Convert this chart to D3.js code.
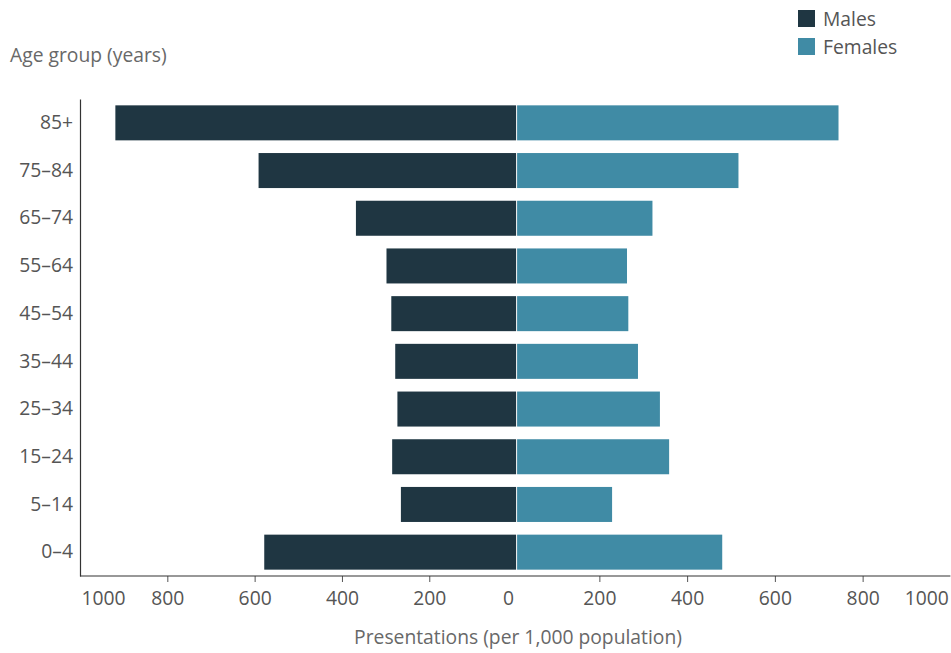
<!DOCTYPE html>
<html>
<head>
<meta charset="utf-8">
<script src="https://cdn.jsdelivr.net/npm/d3@7"></script>
<style>
  html, body { margin: 0; padding: 0; background: #fff; }
  svg { display: block; font-family: "Open Sans", "Noto Sans", sans-serif; }
</style>
</head>
<body>
<svg id="chart" width="951" height="653"></svg>
<script>
const ageGroups = ["85+", "75–84", "65–74", "55–64", "45–54", "35–44", "25–34", "15–24", "5–14", "0–4"];
const males   = [919, 591, 368, 298, 287, 278, 273, 285, 265, 578];
const females = [745, 517, 321, 263, 266, 288, 338, 359, 229, 480];
const tickValues = [0, 200, 400, 600, 800, 1000];
const seriesNames = ["Males", "Females"];
const colors = { Males: "#1f3642", Females: "#408ba5" };

(function () {
const svg = d3.select("#chart");
const plotTop = 99, plotBottom = 576, plotLeft = 80, mid = 516.6, plotRight = 950.4;
const fs = 19.3;

const y = d3.scaleBand().domain(ageGroups).range([plotTop, plotBottom]).paddingInner(0.266).paddingOuter(0.133);
const xL = d3.scaleLinear().domain([0, 1000]).range([mid, plotLeft]);
const xR = d3.scaleLinear().domain([0, 1000]).range([511.6, plotRight]);

const textColor = "#555";
const titleColor = "#686868";
const fmt = d3.format("d");

// bars - males
svg.append("g").selectAll("rect").data(ageGroups).join("rect")
  .attr("x", (d, i) => xL(males[i]))
  .attr("y", d => y(d))
  .attr("width", (d, i) => xL(0) - xL(males[i]) - 0.5)
  .attr("height", y.bandwidth())
  .attr("fill", colors.Males);

// bars - females
svg.append("g").selectAll("rect").data(ageGroups).join("rect")
  .attr("x", mid + 0.5)
  .attr("y", d => y(d))
  .attr("width", (d, i) => xR(females[i]) - (mid + 0.5))
  .attr("height", y.bandwidth())
  .attr("fill", colors.Females);

// y axis
const yAxis = svg.append("g").attr("transform", `translate(${plotLeft},0)`)
  .call(d3.axisLeft(y).tickSize(0).tickPadding(7));
yAxis.select(".domain").attr("stroke", "#333").attr("stroke-width", 1.2);
yAxis.selectAll("text").attr("font-size", fs).attr("fill", textColor)
  .attr("font-family", "'Open Sans', sans-serif");

// bottom axes
const axL = svg.append("g").attr("transform", `translate(0,${plotBottom})`)
  .call(d3.axisBottom(xL).tickValues(tickValues).tickFormat(fmt).tickSize(6).tickSizeOuter(0).tickPadding(9));
const axR = svg.append("g").attr("transform", `translate(0,${plotBottom})`)
  .call(d3.axisBottom(xR).tickValues(tickValues).tickFormat(fmt).tickSize(6).tickSizeOuter(0).tickPadding(9));
[axL, axR].forEach(ax => {
  ax.select(".domain").remove();
  ax.selectAll("line").attr("stroke", "#555");
  ax.selectAll("text").attr("font-size", fs).attr("fill", textColor)
    .attr("font-family", "'Open Sans', sans-serif");
  ax.selectAll(".tick").filter(d => d === 0 || d === 1000).select("line").remove();
});
axL.selectAll(".tick").filter(d => d === 1000).select("text").attr("text-anchor", "start").attr("dx", 1);
axL.selectAll(".tick").filter(d => d === 0).select("text").attr("text-anchor", "end").attr("dx", -3);
axR.selectAll(".tick").filter(d => d === 0).remove();
axR.selectAll(".tick").filter(d => d === 1000).select("text").attr("text-anchor", "end").attr("dx", -2);

svg.append("line").attr("x1", plotLeft).attr("x2", plotRight).attr("y1", plotBottom).attr("y2", plotBottom)
  .attr("stroke", "#333").attr("stroke-width", 1.2);

// titles
svg.append("text").attr("x", 10).attr("y", 62).attr("font-size", fs).attr("fill", titleColor)
  .text("Age group (years)");
svg.append("text").attr("x", 518).attr("y", 644).attr("text-anchor", "middle").attr("font-size", fs).attr("fill", titleColor)
  .text("Presentations (per 1,000 population)");

// legend
const lg = svg.append("g").attr("transform", "translate(798,10)");
seriesNames.forEach((s, i) => {
  const g = lg.append("g").attr("transform", `translate(0,${i * 28})`);
  g.append("rect").attr("width", 17).attr("height", 17).attr("fill", colors[s]);
  g.append("text").attr("x", 25).attr("y", 16).attr("font-size", fs).attr("fill", textColor).text(s);
});
})();
</script>
</body>
</html>
